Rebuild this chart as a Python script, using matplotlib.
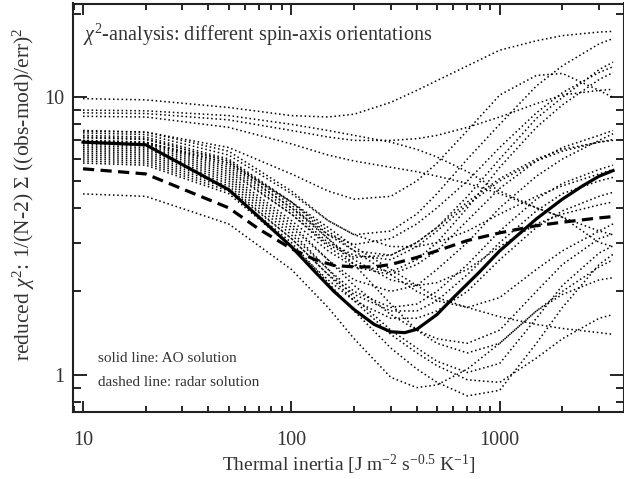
import matplotlib
matplotlib.use("Agg")
import matplotlib.pyplot as plt
from matplotlib.ticker import LogLocator, NullFormatter, FixedLocator, FixedFormatter

plt.rcParams['font.family'] = ['Liberation Serif', 'DejaVu Serif']
plt.rcParams['mathtext.fontset'] = 'custom'
plt.rcParams['mathtext.rm'] = 'Liberation Serif'
plt.rcParams['mathtext.it'] = 'Liberation Serif:italic'

# Thermal inertia grid of the orientation runs
inertia = [10, 20, 50, 100, 150, 200, 300, 400, 500, 700, 1000, 1500, 2000, 3000, 3500]

# AO solution (solid)
ao_inertia = [10, 20, 50, 70, 100, 130, 160, 200, 250, 300, 350, 400, 500, 600, 800, 1000,
              1500, 2000, 2500, 3000, 3500]
ao_solution = [6.9, 6.75, 4.65, 3.7, 2.9, 2.35, 2.0, 1.72, 1.52, 1.43, 1.42, 1.46, 1.65, 1.9,
               2.35, 2.8, 3.65, 4.3, 4.8, 5.2, 5.45]

# radar solution (dashed)
radar_inertia = [10, 20, 50, 70, 100, 130, 160, 200, 250, 300, 400, 500, 700, 1000, 1500,
                 2000, 3000, 3500]
radar_solution = [5.53, 5.3, 4.0, 3.35, 2.85, 2.6, 2.48, 2.45, 2.45, 2.5, 2.65, 2.8, 3.05,
                  3.25, 3.45, 3.55, 3.68, 3.72]

# Other spin-axis orientations (dotted)
orient_01 = [9.9, 9.8, 9.2, 8.6, 8.5, 8.7, 9.6, 10.6, 11.5, 13.0, 14.8, 16.0, 16.7, 17.2, 17.3]
orient_02 = [9.0, 8.95, 8.6, 8.0, 7.6, 7.3, 6.9, 6.5, 6.1, 5.4, 4.6, 4.0, 3.7, 3.3, 3.2]
orient_03 = [8.8, 8.75, 8.3, 7.6, 7.2, 7.0, 7.0, 7.1, 7.3, 7.8, 8.5, 9.5, 10.2, 10.6, 10.7]
orient_04 = [8.55, 8.5, 7.8, 6.8, 6.2, 5.9, 5.6, 5.4, 5.2, 4.9, 4.5, 4.0, 3.7, 3.0, 2.9]
orient_05 = [7.56, 7.5, 6.4, 4.6, 3.6, 3.2, 3.3, 3.8, 4.5, 6.0, 8.0, 11.0, 13.0, 15.6, 16.3]
orient_06 = [7.3, 7.2, 6.0, 4.2, 3.2, 2.8, 2.7, 3.0, 3.4, 4.4, 6.0, 8.4, 10.0, 12.6, 13.4]
orient_07 = [7.0, 6.9, 5.8, 4.0, 3.2, 2.95, 3.1, 3.5, 4.0, 5.0, 6.6, 8.8, 10.4, 12.3, 12.9]
orient_08 = [6.8, 6.7, 5.5, 3.8, 2.9, 2.5, 2.35, 2.6, 3.0, 4.0, 5.6, 7.8, 9.4, 11.6, 12.3]
orient_09 = [7.6, 7.5, 6.6, 5.3, 4.6, 4.3, 4.4, 5.0, 5.8, 7.6, 10.2, 12.0, 12.2, 10.6, 10.0]
orient_10 = [6.6, 6.5, 5.3, 3.6, 2.8, 2.45, 2.3, 2.5, 2.8, 3.6, 4.7, 5.9, 6.6, 7.3, 7.6]
orient_11 = [6.4, 6.3, 5.1, 3.4, 2.6, 2.2, 2.0, 2.1, 2.4, 3.0, 4.0, 5.2, 6.0, 7.0, 7.4]
orient_12 = [6.9, 6.8, 5.6, 3.9, 3.0, 2.7, 2.6, 2.9, 3.3, 4.1, 5.0, 5.9, 6.4, 6.9, 7.0]
orient_13 = [6.7, 6.6, 5.4, 3.8, 2.95, 2.65, 2.7, 3.0, 3.4, 4.2, 5.1, 6.0, 6.5, 6.9, 7.05]
orient_14 = [6.2, 6.1, 4.9, 3.2, 2.4, 2.0, 1.75, 1.8, 2.0, 2.5, 3.3, 4.3, 4.9, 5.5, 5.7]
orient_15 = [6.0, 5.9, 4.7, 3.1, 2.3, 1.95, 1.7, 1.7, 1.85, 2.3, 3.0, 3.9, 4.5, 5.0, 5.15]
orient_16 = [5.8, 5.7, 4.5, 2.9, 2.2, 1.85, 1.6, 1.6, 1.7, 2.0, 2.6, 3.4, 3.9, 4.4, 4.55]
orient_17 = [7.2, 7.1, 5.9, 4.2, 3.3, 2.8, 2.3, 2.0, 1.85, 1.75, 1.9, 2.4, 2.8, 3.3, 3.5]
orient_18 = [6.5, 6.4, 5.2, 3.5, 2.6, 2.1, 1.65, 1.45, 1.35, 1.3, 1.45, 2.0, 2.5, 3.1, 3.22]
orient_19 = [6.3, 6.2, 5.0, 3.3, 2.4, 1.9, 1.45, 1.25, 1.12, 1.02, 1.1, 1.6, 2.1, 2.75, 2.92]
orient_20 = [5.9, 5.8, 4.6, 3.0, 2.15, 1.7, 1.25, 1.05, 0.94, 0.84, 0.88, 1.3, 1.75, 2.5, 2.72]
orient_21 = [4.49, 4.4, 3.5, 2.4, 1.75, 1.35, 0.98, 0.9, 0.92, 1.05, 1.3, 1.7, 1.95, 2.2, 2.24]
orient_22 = [6.1, 6.0, 4.8, 3.1, 2.3, 1.85, 1.4, 1.2, 1.08, 0.96, 0.94, 1.15, 1.35, 1.6, 1.65]
orient_23 = [7.0, 6.9, 5.8, 4.2, 3.4, 2.9, 2.4, 2.1, 1.9, 1.75, 1.62, 1.52, 1.47, 1.42, 1.40]
orient_24 = [7.45, 7.35, 6.2, 4.5, 3.6, 3.2, 2.9, 2.9, 3.0, 3.3, 3.8, 4.4, 4.8, 5.3, 5.5]
orient_25 = [6.95, 6.85, 5.7, 4.0, 3.1, 2.6, 2.2, 2.1, 2.15, 2.4, 2.9, 3.5, 3.8, 4.1, 4.2]
orient_26 = [7.15, 7.05, 5.9, 4.1, 3.1, 2.5, 1.8, 1.45, 1.3, 1.2, 1.3, 1.7, 2.0, 2.45, 2.6]

orientations = [orient_01, orient_02, orient_03, orient_04, orient_05, orient_06, orient_07,
                orient_08, orient_09, orient_10, orient_11, orient_12, orient_13, orient_14,
                orient_15, orient_16, orient_17, orient_18, orient_19, orient_20, orient_21,
                orient_22, orient_23, orient_24, orient_25, orient_26]

fig = plt.figure(figsize=(6.24, 4.79), dpi=100)
ax = fig.add_axes([73/624, 1 - 412/479, 1 - 73/624, (412 - 3.5)/479])

for curve in orientations:
    ax.plot(inertia, curve, color='black', lw=1.1, linestyle=(0, (1, 1.8)))

ax.plot(ao_inertia, ao_solution, color='black', lw=2.3, solid_joinstyle='round')
ax.plot(radar_inertia, radar_solution, color='black', lw=2.3, linestyle=(0, (3.5, 2)))

ax.set_xscale('log')
ax.set_yscale('log')
ax.set_xlim(8.95, 3950)
ax.set_ylim(0.735, 21.8)

ax.xaxis.set_major_locator(FixedLocator([10, 100, 1000]))
ax.xaxis.set_major_formatter(FixedFormatter(['10', '100', '1000']))
ax.xaxis.set_minor_locator(LogLocator(base=10, subs=range(2, 10)))
ax.xaxis.set_minor_formatter(NullFormatter())
ax.yaxis.set_major_locator(FixedLocator([1, 10]))
ax.yaxis.set_major_formatter(FixedFormatter(['1', '10']))
ax.yaxis.set_minor_locator(LogLocator(base=10, subs=range(2, 10)))
ax.yaxis.set_minor_formatter(NullFormatter())

ax.tick_params(which='both', direction='in', top=True, right=True, colors='black',
               labelcolor='#333333', labelsize=14.5, width=1.2)
ax.tick_params(axis='x', which='major', length=8, pad=14)
ax.tick_params(axis='x', which='minor', length=4)
ax.tick_params(axis='y', which='major', length=10, pad=6)
ax.tick_params(axis='y', which='minor', length=6)
for s in ax.spines.values():
    s.set_linewidth(1.5)
    s.set_color('#222222')

ax.set_xlabel(r'Thermal inertia [J m$^{-2}$ s$^{-0.5}$ K$^{-1}$]', fontsize=14, color='#333333', labelpad=2)
fig.text(24/624, 1 - 194/479, r'reduced $\chi^2$: 1/(N-2) $\Sigma$ ((obs-mod)/err)$^2$',
         rotation=90, ha='center', va='center', fontsize=15.5, color='#333333')

fig.text(83/624, 1 - 35/479, r'$\chi^2$-analysis: different spin-axis orientations',
         ha='left', va='center', fontsize=14.5, color='#333333')
fig.text(98/624, 1 - 358/479, 'solid line: AO solution', ha='left', va='center',
         fontsize=11, color='#333333')
fig.text(98/624, 1 - 382/479, 'dashed line: radar solution', ha='left', va='center',
         fontsize=11, color='#333333')

fig.savefig('out.png', dpi=100)
